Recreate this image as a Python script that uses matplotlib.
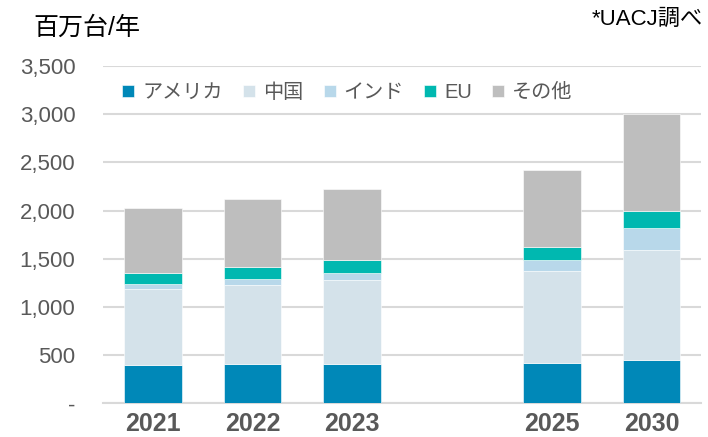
import matplotlib
matplotlib.use("Agg")
import matplotlib.pyplot as plt
import numpy as np

plt.rcParams['font.family'] = ['Liberation Sans', 'Noto Sans CJK JP', 'DejaVu Sans']

years = ["2021", "2022", "2023", "2025", "2030"]
x_pos = [0, 1, 2, 4, 5]  # 2024 slot left empty

series_names = ["アメリカ", "中国", "インド", "EU", "その他"]
usa = [402, 409, 412, 423, 450]
china = [783, 818, 866, 952, 1139]
india = [52, 69, 80, 111, 235]
eu = [117, 120, 131, 137, 169]
other = [670, 701, 731, 794, 1007]
colors = ["#0088B8", "#D4E2EA", "#B8D8EA", "#00B8B0", "#BEBEBE"]

yticks = [0, 500, 1000, 1500, 2000, 2500, 3000, 3500]
ytick_labels = ["-", "500", "1,000", "1,500", "2,000", "2,500", "3,000", "3,500"]

fig = plt.figure(figsize=(7.08, 4.37), dpi=100)
ax = fig.add_axes([0.1455, 0.0767, 0.845, 0.7723])

bottom = np.zeros(len(years))
for name, vals, c in zip(series_names, [usa, china, india, eu, other], colors):
    ax.bar(x_pos, vals, width=0.58, bottom=bottom, color=c, label=name,
           edgecolor="white", linewidth=0.4, zorder=3)
    bottom += np.array(vals)

ax.set_xlim(-0.5, 5.5)
ax.set_ylim(0, 3500)
ax.set_yticks(yticks)
ax.set_yticklabels(ytick_labels, fontsize=16, color="#595959")
ax.set_xticks(x_pos)
ax.set_xticklabels(years, fontsize=18, fontweight="bold", color="#595959")
ax.tick_params(axis="both", length=0)
ax.tick_params(axis="y", pad=20)
ax.tick_params(axis="x", pad=6)
ax.grid(axis="y", color="#D9D9D9", linewidth=1.5, zorder=0)
for s in ["top", "right", "left"]:
    ax.spines[s].set_visible(False)
ax.spines["bottom"].set_color("#D9D9D9")
ax.spines["bottom"].set_linewidth(1.5)

leg = ax.legend(loc="upper left", bbox_to_anchor=(0.012, 0.985), ncol=5, frameon=False,
                fontsize=14.5, handlelength=0.6, handleheight=0.6, handletextpad=0.4,
                columnspacing=1.0, borderaxespad=0.2)
for t in leg.get_texts():
    t.set_color("#595959")

fig.text(33 / 708, 1 - 28 / 437, "百万台/年", fontsize=18, va="center", ha="left", color="black")
fig.text(703 / 708, 1 - 19 / 437, "*UACJ調べ", fontsize=16, va="center", ha="right", color="black")

fig.savefig("out.png", dpi=100)
